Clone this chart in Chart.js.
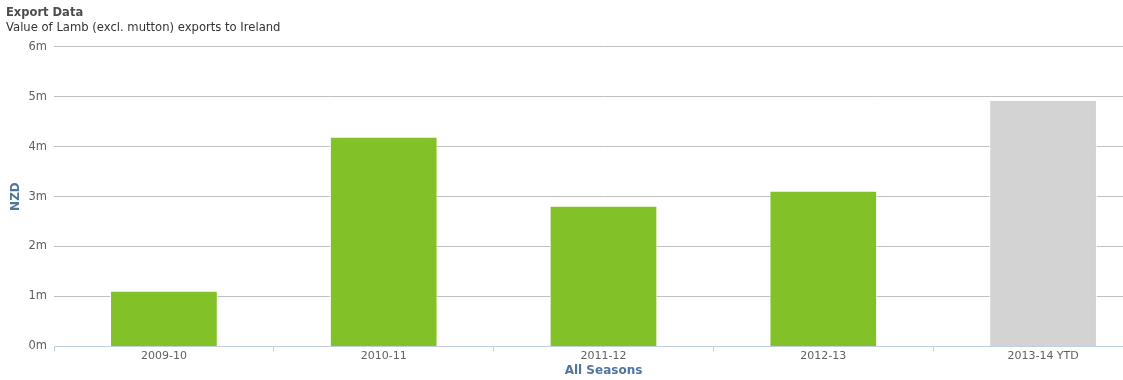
<!DOCTYPE html>
<html lang="en">
<head>
    <meta charset="UTF-8">
    <title>Export Data</title>
    <script src="https://cdn.jsdelivr.net/npm/chart.js"></script>
    <style>
        html, body { margin: 0; padding: 0; background: #fff; overflow: hidden; }
        #wrap { width: 1153px; height: 380px; position: relative; }
    </style>
</head>
<body>

<div id="wrap"><canvas id="barChart"></canvas></div>

<script>
    // Seasons and export values (NZD)
    const seasons = ['2009-10', '2010-11', '2011-12', '2012-13', '2013-14 YTD'];
    const values = [1100000, 4180000, 2800000, 3100000, 4920000];
    const barColors = ['#82c128', '#82c128', '#82c128', '#82c128', '#d3d3d3'];

    const font = 'Lucida Grande, "DejaVu Sans", Verdana, sans-serif';

    const ctx = document.getElementById('barChart').getContext('2d');
    new Chart(ctx, {
        type: 'bar',
        data: {
            labels: seasons,
            datasets: [{
                label: 'Value',
                data: values,
                backgroundColor: barColors,
                borderColor: '#ffffff',
                borderWidth: { left: 1, right: 1, top: 0, bottom: 0 },
                barPercentage: 0.49,
                categoryPercentage: 1
            }]
        },
        options: {
            responsive: true,
            maintainAspectRatio: false,
            animation: false,
            layout: { padding: { left: 6, right: 0, top: 6, bottom: 2 } },
            plugins: {
                legend: { display: false },
                tooltip: { enabled: false },
                title: {
                    display: true,
                    text: 'Export Data',
                    align: 'start',
                    color: '#4d4d4d',
                    font: { family: font, size: 11.5, weight: 'bold' },
                    padding: { top: 0, bottom: 1 }
                },
                subtitle: {
                    display: true,
                    text: 'Value of Lamb (excl. mutton) exports to Ireland',
                    align: 'start',
                    color: '#333333',
                    font: { family: font, size: 11.6 },
                    padding: { top: 0, bottom: 12 }
                }
            },
            scales: {
                x: {
                    grid: {
                        offset: true,
                        drawOnChartArea: false,
                        color: '#c0d0e0',
                        tickLength: 5
                    },
                    border: { color: '#c0d0e0' },
                    ticks: {
                        color: '#606060',
                        font: { family: font, size: 11 },
                        padding: -2
                    },
                    title: {
                        display: true,
                        text: 'All Seasons',
                        color: '#4d759e',
                        font: { family: font, size: 12, weight: 'bold' },
                        padding: { top: 3, bottom: 0 }
                    }
                },
                y: {
                    min: 0,
                    max: 6000000,
                    afterFit: scale => { scale.width = 48; },
                    grid: { color: '#c0c0c0', drawTicks: false },
                    border: { display: false },
                    ticks: {
                        stepSize: 1000000,
                        color: '#606060',
                        font: { family: font, size: 11.5 },
                        padding: 7,
                        callback: v => (v / 1000000) + 'm'
                    },
                    title: {
                        display: true,
                        text: 'NZD',
                        color: '#4d759e',
                        font: { family: font, size: 12, weight: 'bold' },
                        padding: { top: 3, bottom: 0 }
                    }
                }
            }
        }
    });
</script>

</body>
</html>
